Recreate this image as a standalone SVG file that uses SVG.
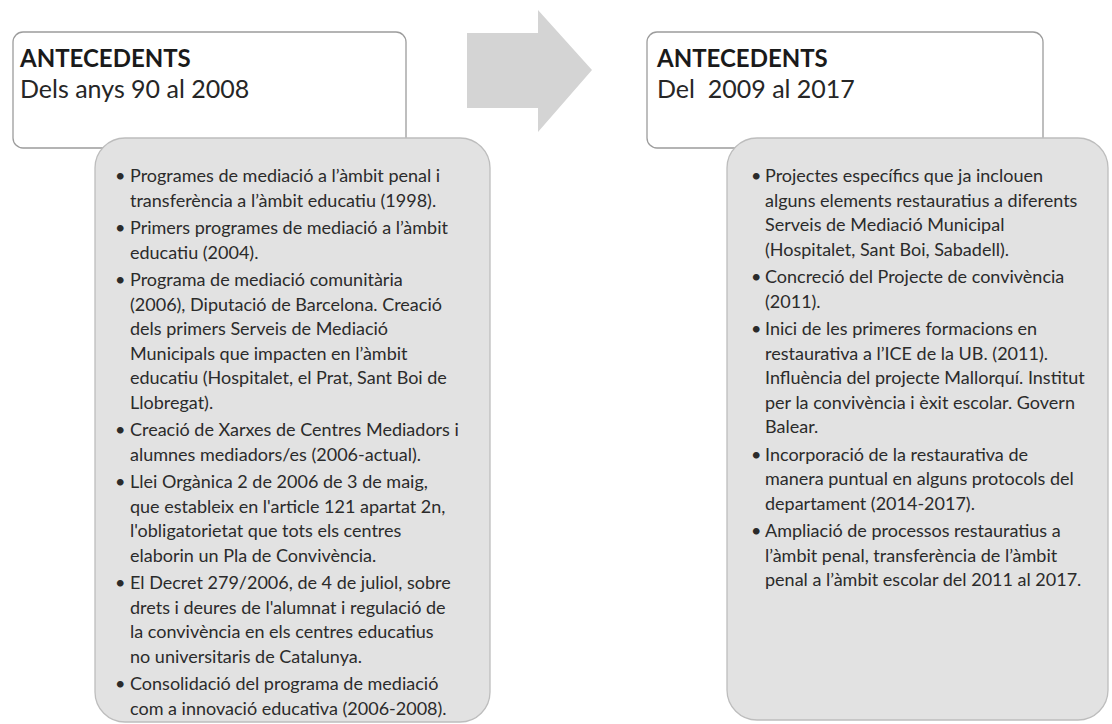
<svg xmlns="http://www.w3.org/2000/svg" width="1112" height="724" viewBox="0 0 1112 724">
<style>
.hdr{fill:#ffffff;stroke:#9c9c9c;stroke-width:1.3}
.lst{fill:#e2e2e2;stroke:#bdbdbd;stroke-width:1.3}
.arrow{fill:#d4d4d4}
.h1{font-family:Lato,"Liberation Sans",sans-serif;font-weight:bold;font-size:24px;fill:#1a1a1a}
.h2{font-family:Lato,"Liberation Sans",sans-serif;font-size:25px;fill:#262626}
.t{font-family:Lato,"Liberation Sans",sans-serif;font-size:18px;fill:#2b2b2b}
</style>
<g id="connectors">
<path class="arrow" d="M467,33 L538,33 L538,10 L592,70 L538,132 L538,108 L467,108 Z"/>
</g>
<g id="header-left">
<rect class="hdr" x="13" y="32" width="393" height="116" rx="10"/>
<text class="h1" x="20" y="67">ANTECEDENTS</text>
<text class="h2" x="20" y="98">Dels anys 90 al 2008</text>
</g>
<g id="header-right">
<rect class="hdr" x="647" y="32" width="396" height="116" rx="10"/>
<text class="h1" x="657" y="67">ANTECEDENTS</text>
<text class="h2" x="657" y="98" xml:space="preserve">Del  2009 al 2017</text>
</g>
<g id="list-left">
<rect class="lst" x="95" y="138" width="395" height="584" rx="30"/>
<text class="t">
<tspan x="115" y="182">•</tspan><tspan x="130" y="182">Programes de mediació a l’àmbit penal i</tspan>
<tspan x="130" y="206.5">transferència a l’àmbit educatiu (1998).</tspan>
<tspan x="115" y="234">•</tspan><tspan x="130" y="234">Primers programes de mediació a l’àmbit</tspan>
<tspan x="130" y="258.5">educatiu (2004).</tspan>
<tspan x="115" y="286">•</tspan><tspan x="130" y="286">Programa de mediació comunitària</tspan>
<tspan x="130" y="310.5">(2006), Diputació de Barcelona. Creació</tspan>
<tspan x="130" y="335">dels primers Serveis de Mediació</tspan>
<tspan x="130" y="359.5">Municipals que impacten en l’àmbit</tspan>
<tspan x="130" y="384">educatiu (Hospitalet, el Prat, Sant Boi de</tspan>
<tspan x="130" y="408.5">Llobregat).</tspan>
<tspan x="115" y="436">•</tspan><tspan x="130" y="436">Creació de Xarxes de Centres Mediadors i</tspan>
<tspan x="130" y="460.5">alumnes mediadors/es (2006-actual).</tspan>
<tspan x="115" y="488">•</tspan><tspan x="130" y="488">Llei Orgànica 2 de 2006 de 3 de maig,</tspan>
<tspan x="130" y="512.5">que estableix en l'article 121 apartat 2n,</tspan>
<tspan x="130" y="537">l'obligatorietat que tots els centres</tspan>
<tspan x="130" y="561.5">elaborin un Pla de Convivència.</tspan>
<tspan x="115" y="589">•</tspan><tspan x="130" y="589">El Decret 279/2006, de 4 de juliol, sobre</tspan>
<tspan x="130" y="613.5">drets i deures de l'alumnat i regulació de</tspan>
<tspan x="130" y="638">la convivència en els centres educatius</tspan>
<tspan x="130" y="662.5">no universitaris de Catalunya.</tspan>
<tspan x="115" y="690">•</tspan><tspan x="130" y="690">Consolidació del programa de mediació</tspan>
<tspan x="130" y="714.5">com a innovació educativa (2006-2008).</tspan>
</text>
</g>
<g id="list-right">
<rect class="lst" x="727" y="138" width="381" height="582" rx="30"/>
<text class="t">
<tspan x="751" y="182">•</tspan><tspan x="765" y="182">Projectes específics que ja inclouen</tspan>
<tspan x="765" y="206.5">alguns elements restauratius a diferents</tspan>
<tspan x="765" y="231">Serveis de Mediació Municipal</tspan>
<tspan x="765" y="255.5">(Hospitalet, Sant Boi, Sabadell).</tspan>
<tspan x="751" y="283">•</tspan><tspan x="765" y="283">Concreció del Projecte de convivència</tspan>
<tspan x="765" y="307.5">(2011).</tspan>
<tspan x="751" y="335">•</tspan><tspan x="765" y="335">Inici de les primeres formacions en</tspan>
<tspan x="765" y="359.5">restaurativa a l’ICE de la UB. (2011).</tspan>
<tspan x="765" y="384">Influència del projecte Mallorquí. Institut</tspan>
<tspan x="765" y="408.5">per la convivència i èxit escolar. Govern</tspan>
<tspan x="765" y="433">Balear.</tspan>
<tspan x="751" y="460.5">•</tspan><tspan x="765" y="460.5">Incorporació de la restaurativa de</tspan>
<tspan x="765" y="485">manera puntual en alguns protocols del</tspan>
<tspan x="765" y="509.5">departament (2014-2017).</tspan>
<tspan x="751" y="537">•</tspan><tspan x="765" y="537">Ampliació de processos restauratius a</tspan>
<tspan x="765" y="561.5">l’àmbit penal, transferència de l’àmbit</tspan>
<tspan x="765" y="586">penal a l’àmbit escolar del 2011 al 2017.</tspan>
</text>
</g>
</svg>
